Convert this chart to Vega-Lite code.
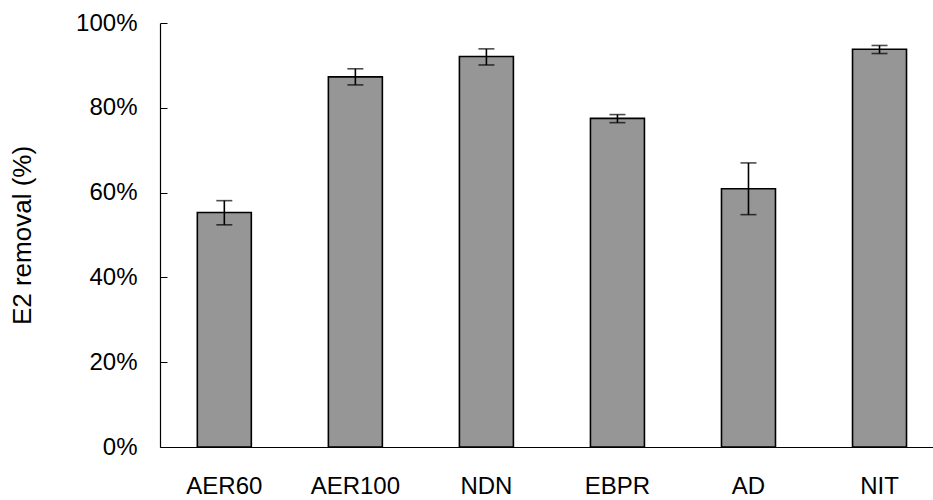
{
  "$schema": "https://vega.github.io/schema/vega-lite/v6.json",
  "autosize": "none",
  "width": 773,
  "height": 424,
  "padding": {"left": 160, "top": 23, "right": 0, "bottom": 53},
  "background": "white",
  "config": {
    "view": {"stroke": null},
    "font": "Liberation Sans",
    "axis": {"labelFont": "Liberation Sans", "titleFont": "Liberation Sans", "labelColor": "black", "titleColor": "black", "domainColor": "black", "tickColor": "black", "grid": false}
  },
  "data": {
    "values": [
      {"process": "AER60", "value": 55.3, "lo": 52.4, "hi": 58.1},
      {"process": "AER100", "value": 87.3, "lo": 85.4, "hi": 89.2},
      {"process": "NDN", "value": 92.1, "lo": 90.1, "hi": 93.9},
      {"process": "EBPR", "value": 77.5, "lo": 76.5, "hi": 78.4},
      {"process": "AD", "value": 60.9, "lo": 54.8, "hi": 67.0},
      {"process": "NIT", "value": 93.8, "lo": 92.8, "hi": 94.7}
    ]
  },
  "encoding": {
    "x": {
      "field": "process",
      "type": "nominal",
      "sort": null,
      "scale": {"paddingInner": 0.588, "paddingOuter": 0.2435, "align": 0.585},
      "axis": {"title": null, "labelAngle": 0, "labelFontSize": 24, "ticks": false, "labelPadding": 27, "domainWidth": 1.2}
    }
  },
  "layer": [
    {
      "mark": {"type": "bar", "fill": "#969696", "stroke": "black", "strokeWidth": 1.6},
      "encoding": {
        "y": {
          "field": "value",
          "type": "quantitative",
          "scale": {"domain": [0, 100]},
          "axis": {
            "title": "E2 removal (%)",
            "titleFontSize": 26,
            "titleFontWeight": "normal",
            "titlePadding": 40,
            "values": [0, 20, 40, 60, 80, 100],
            "labelExpr": "datum.value + '%'",
            "labelFontSize": 24,
            "tickSize": -7,
            "labelPadding": 30,
            "domainWidth": 1.2
          }
        }
      }
    },
    {
      "mark": {"type": "rule", "color": "black", "strokeWidth": 1.6},
      "encoding": {
        "y": {"field": "lo", "type": "quantitative"},
        "y2": {"field": "hi"}
      }
    },
    {
      "mark": {"type": "tick", "orient": "horizontal", "color": "black", "thickness": 1.6, "size": 16},
      "encoding": {"y": {"field": "lo", "type": "quantitative"}}
    },
    {
      "mark": {"type": "tick", "orient": "horizontal", "color": "black", "thickness": 1.6, "size": 16},
      "encoding": {"y": {"field": "hi", "type": "quantitative"}}
    }
  ]
}
